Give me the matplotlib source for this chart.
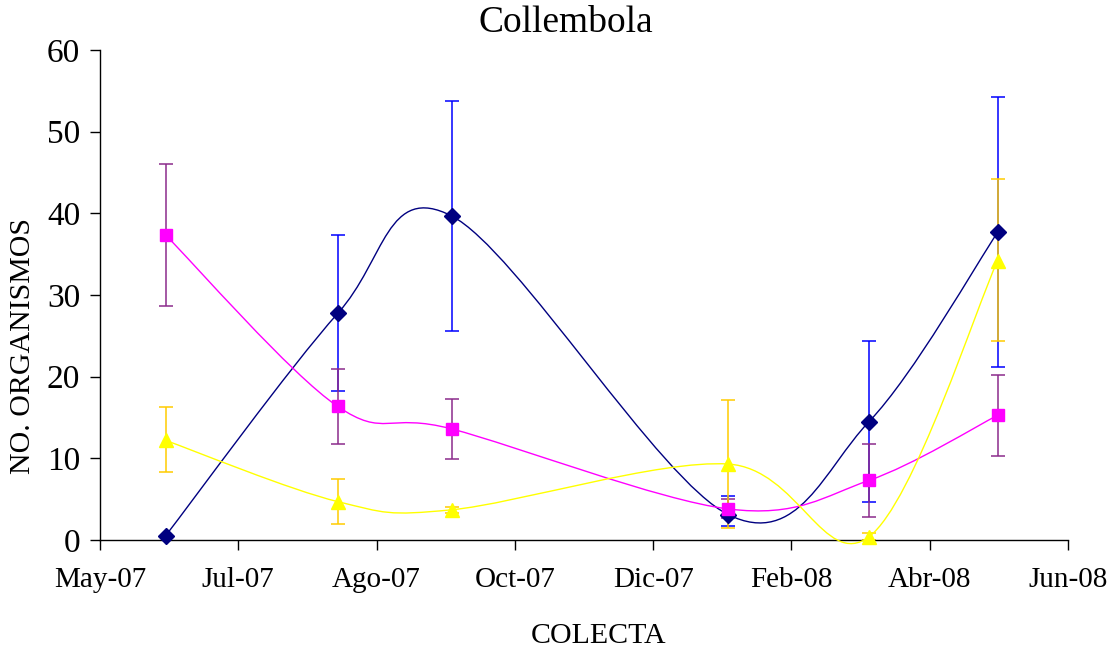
import matplotlib
matplotlib.use("Agg")
import matplotlib.pyplot as plt
import matplotlib.dates as mdates
from matplotlib.path import Path
from matplotlib.patches import PathPatch
import numpy as np
import datetime as dt

# ---- data ----
fechas = ["2007-06-04", "2007-08-14", "2007-09-30", "2008-01-22", "2008-03-20", "2008-05-12"]

serie_a = [0.5, 27.75, 39.67, 3.1, 14.5, 37.67]          # navy diamonds
serie_a_sup = [0.5, 37.3, 53.7, 5.4, 24.4, 54.25]
serie_a_inf = [0.5, 18.25, 25.55, 1.7, 4.65, 21.15]

serie_b = [37.35, 16.35, 13.6, 3.8, 7.3, 15.27]         # magenta squares
serie_b_sup = [46.0, 20.9, 17.26, 5.0, 11.7, 20.17]
serie_b_inf = [28.7, 11.8, 9.88, 2.7, 2.85, 10.3]

serie_c = [12.2, 4.7, 3.7, 9.3, 0.4, 34.2]              # yellow triangles
serie_c_sup = [16.25, 7.43, 4.08, 17.1, 0.85, 44.25]
serie_c_inf = [8.33, 1.96, 3.3, 1.5, 0.0, 24.37]

tick_labels = ["May-07", "Jul-07", "Ago-07", "Oct-07", "Dic-07", "Feb-08", "Abr-08", "Jun-08"]
tick_start = "2007-05-08"
tick_step_days = 57

plt.rcParams['font.family'] = ['Liberation Serif', 'DejaVu Serif']

W, H = 1112, 652
fig = plt.figure(figsize=(W / 100, H / 100), dpi=100)
ax = fig.add_axes([100 / W, (H - 540) / H, (1068 - 100) / W, (540 - 50) / H])

x = mdates.date2num([dt.datetime.strptime(f, "%Y-%m-%d") for f in fechas])
t0 = mdates.date2num(dt.datetime.strptime(tick_start, "%Y-%m-%d"))
ticks = [t0 + i * tick_step_days for i in range(len(tick_labels))]


def smooth_path(xs, ys):
    xs = np.asarray(xs, float)
    ys = np.asarray(ys, float)
    pts = np.column_stack([xs, ys])
    n = len(pts)
    verts = [pts[0]]
    codes = [Path.MOVETO]
    for i in range(n - 1):
        p0 = pts[i - 1] if i > 0 else pts[i]
        p1 = pts[i]
        p2 = pts[i + 1]
        p3 = pts[i + 2] if i + 2 < n else pts[i + 1]
        c1 = p1 + (p2 - p0) / 6.0
        c2 = p2 - (p3 - p1) / 6.0
        verts += [c1, c2, p2]
        codes += [Path.CURVE4] * 3
    return Path(verts, codes)


series = [
    (serie_a, serie_a_sup, serie_a_inf, "#000080", "#0000FF", "D", 8),
    (serie_b, serie_b_sup, serie_b_inf, "#FF00FF", "#8B2B8B", "s", 9),
    (serie_c, serie_c_sup, serie_c_inf, "#FFFF00", "#FFCC00", "^", 10),
]

for vals, sup, inf, lc, ec, mk, ms in series:
    vals = np.asarray(vals)
    yerr = [vals - np.asarray(inf), np.asarray(sup) - vals]
    ax.errorbar(x, vals, yerr=yerr, fmt="none", ecolor=ec, elinewidth=1.1,
                capsize=5, capthick=1.1, zorder=2)
    patch = PathPatch(smooth_path(x, vals), facecolor="none", edgecolor=lc,
                      lw=1.0, zorder=3, clip_on=False)
    ax.add_patch(patch)
    ax.plot(x, vals, linestyle="none", marker=mk, markersize=ms, color=lc,
            markeredgecolor=lc, zorder=4, clip_on=False)

ax.set_xlim(ticks[0], ticks[-1])
ax.set_ylim(0, 60)
ax.set_xticks(ticks)
ax.set_xticklabels(tick_labels)
ax.set_yticks(range(0, 61, 10))

for s in ["top", "right"]:
    ax.spines[s].set_visible(False)
for s in ["left", "bottom"]:
    ax.spines[s].set_linewidth(1.0)
    ax.spines[s].set_color("black")

ax.tick_params(axis="both", direction="out", length=7.2, width=1.0, colors="black")
ax.tick_params(axis="x", pad=12, labelsize=21)
ax.tick_params(axis="y", pad=7, labelsize=24)

fig.text(566 / W, 1 - 23 / H, "Collembola", fontsize=27, ha="center", va="center")
fig.text(599 / W, 1 - 636 / H, "COLECTA", fontsize=21.5, ha="center", va="center")
fig.text(23 / W, 1 - 346 / H, "NO. ORGANISMOS", fontsize=21.5, ha="center", va="center",
         rotation=90)

fig.savefig("out.png", dpi=100, facecolor="white")
